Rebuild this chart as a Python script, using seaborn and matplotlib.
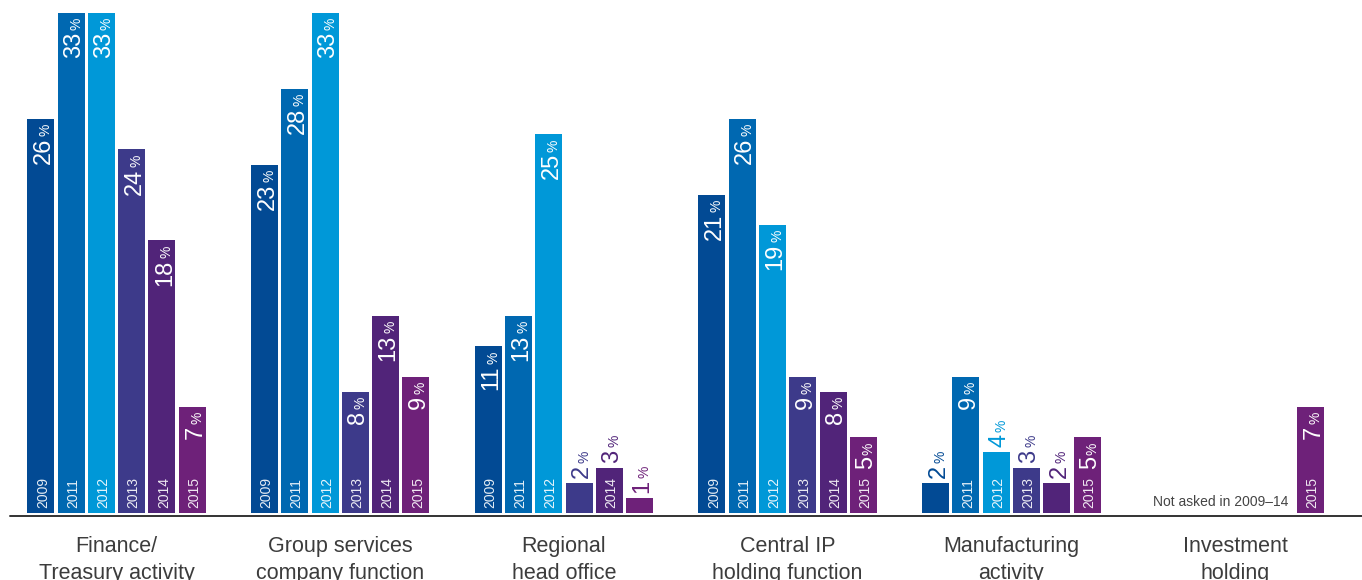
import matplotlib
matplotlib.use("Agg")
import matplotlib.pyplot as plt
import numpy as np
import pandas as pd
import seaborn as sns

# Données (en %)
categories = ["Finance/\nTreasury activity", "Group services\ncompany function",
              "Regional\nhead office", "Central IP\nholding function",
              "Manufacturing\nactivity", "Investment\nholding"]
years = ["2009", "2011", "2012", "2013", "2014", "2015"]
v2009 = [26, 23, 11, 21, 2, np.nan]
v2011 = [33, 28, 13, 26, 9, np.nan]
v2012 = [33, 33, 25, 19, 4, np.nan]
v2013 = [24, 8, 2, 9, 3, np.nan]
v2014 = [18, 13, 3, 8, 2, np.nan]
v2015 = [7, 9, 1, 5, 5, 7]
note = "Not asked in 2009\u201314"

colors = ["#024A94", "#0068B1", "#0098D8", "#3D3A8A", "#512479", "#6E2179"]

series = [v2009, v2011, v2012, v2013, v2014, v2015]
rows = []
for y, vals in zip(years, series):
    for c, v in zip(categories, vals):
        rows.append({"category": c, "year": y, "value": v})
df = pd.DataFrame(rows).dropna()

sns.set_style("white")
plt.rcParams["font.family"] = ["Liberation Sans", "DejaVu Sans"]

PX = 0.72  # 1 pixel en points (dpi 100)
fig = plt.figure(figsize=(13.62, 5.8), dpi=100)
ax = fig.add_axes([0, 67 / 580, 1, 513 / 580])

sns.barplot(data=df, x="category", y="value", hue="year", order=categories,
            hue_order=years, palette=colors, saturation=1, width=0.8127,
            gap=0.109, legend=False, linewidth=0, ax=ax)

ax.set_xlim(-0.5208, 5.5678)
ax.set_ylim(0, 33.858)
ax.set_xticks([])
ax.set_yticks([])
ax.set_xlabel("")
ax.set_ylabel("")
sns.despine(ax=ax, left=True, bottom=True)
ax.axhline(-0.165, xmin=10 / 1362, xmax=1, color="#333333", lw=1.4, clip_on=False)

num_fs = 17
pct_fs = 10
num_px = num_fs / PX
for k, cont in enumerate(ax.containers):
    col = colors[k]
    for bar in cont:
        h = bar.get_height()
        if not np.isfinite(h):
            continue
        xc = bar.get_x() + bar.get_width() / 2
        label = str(int(round(h)))
        nlen = len(label) * 0.556 * num_px
        if h > 4:
            ax.annotate("%", xy=(xc, h), xytext=(9 * PX, -5 * PX), textcoords="offset points",
                        rotation=90, rotation_mode="anchor", ha="right", va="baseline",
                        fontsize=pct_fs, color="white")
            ax.annotate(label, xy=(xc, h), xytext=(9 * PX, -19 * PX), textcoords="offset points",
                        rotation=90, rotation_mode="anchor", ha="right", va="baseline",
                        fontsize=num_fs, color="white")
        else:
            ax.annotate(label, xy=(xc, h), xytext=(9 * PX, 5 * PX), textcoords="offset points",
                        rotation=90, rotation_mode="anchor", ha="left", va="baseline",
                        fontsize=num_fs, color=col)
            ax.annotate("%", xy=(xc, h), xytext=(9 * PX, (5 + nlen + 2) * PX),
                        textcoords="offset points", rotation=90, rotation_mode="anchor",
                        ha="left", va="baseline", fontsize=pct_fs, color=col)
        if h >= 3:
            ax.annotate(years[k], xy=(xc, 0), xytext=(6 * PX, 4.7 * PX), textcoords="offset points",
                        rotation=90, rotation_mode="anchor", ha="left", va="baseline",
                        fontsize=10, color="white", alpha=0.9)

# Note pour "Investment holding"
last = ax.containers[-1][-1]
ax.annotate(note, xy=(last.get_x(), 0), xytext=(-9 * PX, 7.3 * PX), textcoords="offset points",
            ha="right", va="baseline", fontsize=10, color="#444444")

# Libellés des catégories
for i, c in enumerate(categories):
    ax.annotate(c, xy=(i, 0), xytext=(0, -23 * PX), textcoords="offset points",
                ha="center", va="top", fontsize=15.5, color="#3c3c3c",
                linespacing=1.4, annotation_clip=False)

fig.savefig("out.png", dpi=100)
